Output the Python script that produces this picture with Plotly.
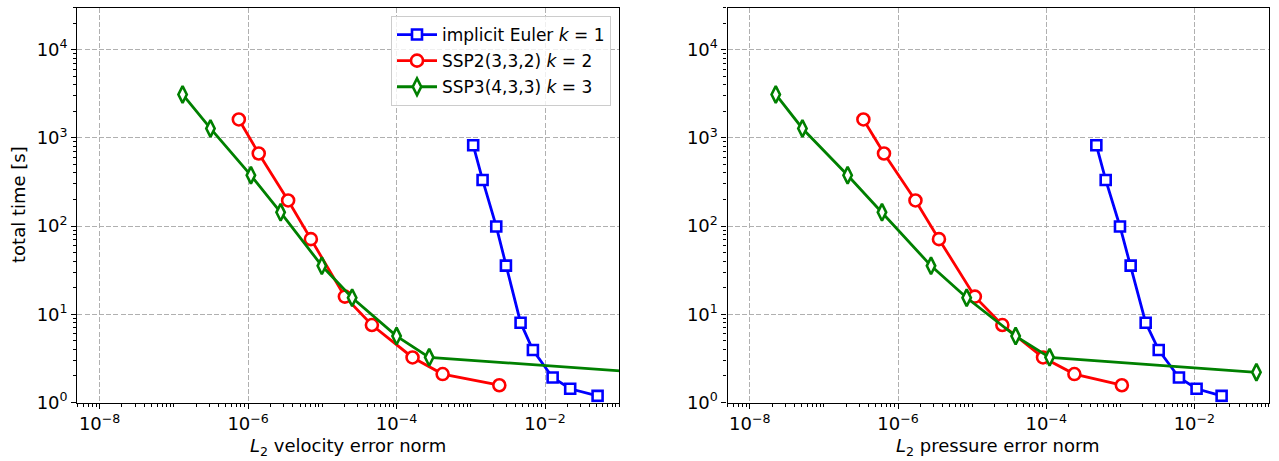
import plotly.graph_objects as go

W, H = 1279, 461

time_euler = [824, 333, 98.9, 35.6, 8.03, 3.93, 1.92, 1.43, 1.19]
time_ssp2 = [1615, 664, 195, 71, 15.85, 7.55, 3.24, 2.1, 1.57]
time_ssp3 = [3100, 1276, 376, 143, 35.4, 15.4, 5.66, 3.25, 2.2]

vel_euler = [1.076e-3, 1.44e-3, 2.2e-3, 2.97e-3, 4.68e-3, 6.86e-3, 1.265e-2, 2.18e-2, 5.1e-2]
vel_ssp2 = [7.5e-7, 1.39e-6, 3.46e-6, 7.0e-6, 2.01e-5, 4.65e-5, 1.64e-4, 4.17e-4, 2.42e-3]
vel_ssp3 = [1.31e-7, 3.11e-7, 1.09e-6, 2.74e-6, 9.84e-6, 2.52e-5, 1.0e-4, 2.75e-4, 0.19]

pre_euler = [4.75e-4, 6.35e-4, 9.9e-4, 1.38e-3, 2.2e-3, 3.3e-3, 6.19e-3, 1.07e-2, 2.33e-2]
pre_ssp2 = [3.41e-7, 6.47e-7, 1.72e-6, 3.57e-6, 1.09e-5, 2.56e-5, 9.06e-5, 2.4e-4, 1.05e-3]
pre_ssp3 = [2.24e-8, 5.13e-8, 2.09e-7, 6.08e-7, 2.79e-6, 8.45e-6, 3.87e-5, 1.11e-4, 6.87e-2]

names = ["implicit Euler <i>k</i> = 1", "SSP2(3,3,2) <i>k</i> = 2", "SSP3(4,3,3) <i>k</i> = 3"]
colors = ["#0000ff", "#ff0000", "#008000"]
symbols = ["square", "circle", "diamond-tall"]
msizes = [10, 12, 12]

x_tickvals = [1e-8, 1e-6, 1e-4, 1e-2]
x_ticktext = ["10<sup>−8</sup>", "10<sup>−6</sup>", "10<sup>−4</sup>", "10<sup>−2</sup>"]
y_tickvals = [1, 10, 100, 1000, 10000]
y_ticktext = ["10<sup>0</sup>", "10<sup>1</sup>", "10<sup>2</sup>", "10<sup>3</sup>", "10<sup>4</sup>"]

x_minor = [k * 10.0 ** n for n in range(-9, 0) for k in range(1, 10)
           if not (k == 1 and n in (-8, -6, -4, -2))]
y_minor = [k * 10.0 ** n for n in range(0, 5) for k in range(2, 10)]

FONT = "DejaVu Sans"
FS = 18
LFS = 17

fig = go.Figure()

panels = [
    ("x", "y", [vel_euler, vel_ssp2, vel_ssp3], True),
    ("x2", "y2", [pre_euler, pre_ssp2, pre_ssp3], False),
]
times = [time_euler, time_ssp2, time_ssp3]
for xa, ya, errs, showleg in panels:
    for i in range(3):
        fig.add_trace(go.Scatter(
            x=errs[i], y=times[i], xaxis=xa, yaxis=ya,
            mode="lines+markers", name=names[i], showlegend=showleg,
            legendgroup="g%d" % i,
            line=dict(color=colors[i], width=2.8),
            marker=dict(symbol=symbols[i], size=msizes[i], color="white",
                        line=dict(color=colors[i], width=2.6)),
            cliponaxis=True,
        ))

x1d = [77.3 / W, 619.3 / W]
x2d = [727.5 / W, 1268.5 / W]
yd = [(H - 402.5) / H, (H - 7.5) / H]

def common(domain, anchor, rng, tv, tt, minor_vals):
    return dict(
        type="log", domain=domain, anchor=anchor, automargin=False,
        range=rng, tickmode="array", tickvals=tv, ticktext=tt,
        ticks="outside", ticklen=5, tickwidth=1, tickcolor="black",
        showline=True, linecolor="black", linewidth=1.2, mirror=True,
        showgrid=True, gridcolor="#b0b0b0", griddash="5px,2.2px", gridwidth=1,
        zeroline=False,
        tickfont=dict(family=FONT, size=FS, color="black"),
        minor=dict(tickmode="array", tickvals=minor_vals, ticks="outside",
                   ticklen=3, tickcolor="black", tickwidth=0.8, showgrid=False),
    )

xr = [-8.301, -1.0]
yr = [0, 4.477]

fig.update_layout(
    width=W, height=H,
    margin=dict(l=0, r=0, t=0, b=0, autoexpand=False),
    paper_bgcolor="white", plot_bgcolor="white",
    font=dict(family=FONT, size=FS, color="black"),
    xaxis=common(x1d, "y", xr, x_tickvals, x_ticktext, x_minor),
    yaxis=common(yd, "x", yr, y_tickvals, y_ticktext, y_minor),
    xaxis2=common(x2d, "y2", xr, x_tickvals, x_ticktext, x_minor),
    yaxis2=common(yd, "x2", yr, y_tickvals, y_ticktext, y_minor),
    showlegend=True,
    legend=dict(
        x=611 / W, y=(H - 16) / H, xanchor="right", yanchor="top",
        bgcolor="rgba(255,255,255,0.8)", bordercolor="#cccccc", borderwidth=1,
        font=dict(family=FONT, size=LFS, color="black"),
        itemwidth=40, tracegroupgap=1,
    ),
    annotations=[
        dict(text="<i>L</i><sub>2</sub> velocity error norm", xref="paper", yref="paper",
             x=(x1d[0] + x1d[1]) / 2, y=(H - 447) / H, xanchor="center", yanchor="middle",
             showarrow=False, font=dict(family=FONT, size=FS, color="black")),
        dict(text="<i>L</i><sub>2</sub> pressure error norm", xref="paper", yref="paper",
             x=(x2d[0] + x2d[1]) / 2, y=(H - 447) / H, xanchor="center", yanchor="middle",
             showarrow=False, font=dict(family=FONT, size=FS, color="black")),
        dict(text="total time [s]", xref="paper", yref="paper",
             x=18 / W, y=(H - 205) / H, xanchor="center", yanchor="middle", textangle=-90,
             showarrow=False, font=dict(family=FONT, size=FS, color="black")),
    ],
)

fig.write_html("out.html")
